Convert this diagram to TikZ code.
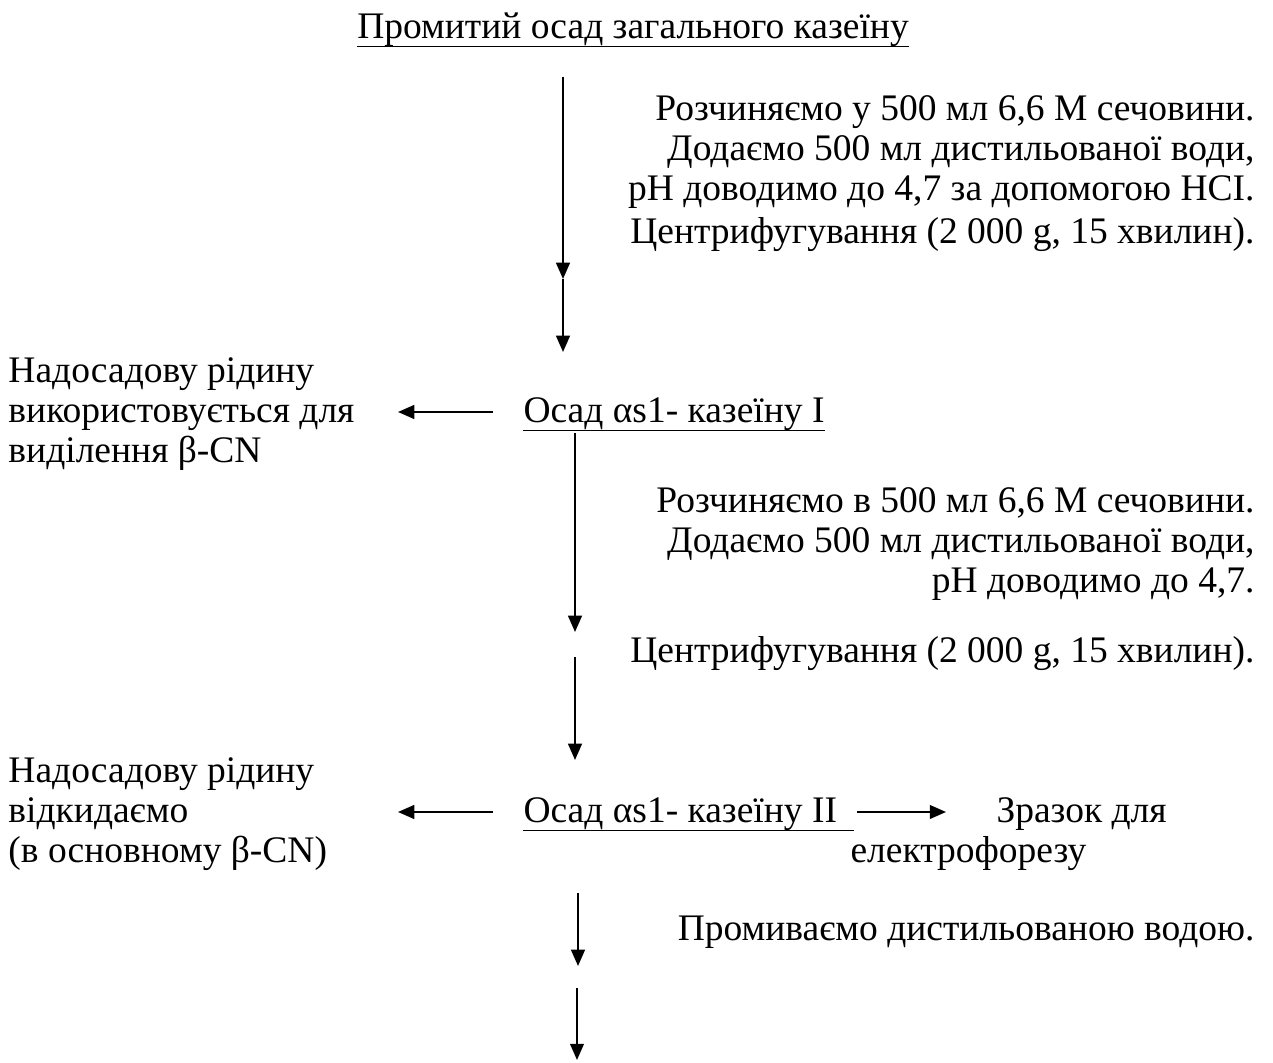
\documentclass[tikz,border=0pt]{standalone}
\usepackage{fontspec}
\setmainfont{Liberation Serif}
\usetikzlibrary{arrows.meta}
\begin{document}
\begin{tikzpicture}[x=0.4pt,y=-0.4pt,
  txt/.style={inner sep=0pt,font=\fontsize{15pt}{16pt}\selectfont},
  arr/.style={line width=0.8pt,-{Triangle[length=6.5pt,width=5.5pt]}},
  uline/.style={line width=0.7pt}]
\useasboundingbox (0,0) rectangle (1273,1063);

% title
\node[txt,anchor=base] (title) at (633,39) {Промитий осад загального казеїну};
\draw[uline] ([yshift=-3.0pt]title.base west) -- ([yshift=-3.0pt]title.base east);

% right block A
\node[txt,anchor=base east] (ra1) at (1255,121) {Розчиняємо у 500 мл 6,6 М сечовини.};
\node[txt,anchor=base east] (ra2) at (1255,161) {Додаємо 500 мл дистильованої води,};
\node[txt,anchor=base east] (ra3) at (1255,201) {pH доводимо до 4,7 за допомогою HCI.};
\node[txt,anchor=base east] (ra4) at (1255,244) {Центрифугування (2 000 g, 15 хвилин).};

% left block A
\node[txt,anchor=base west] (la1) at (8,383) {Надосадову рідину};
\node[txt,anchor=base west] (la2) at (8,423) {використовується для};
\node[txt,anchor=base west] (la3) at (8,463) {виділення β-CN};

% precipitate I
\node[txt,anchor=base west] (o1) at (523,423) {Осад αs1- казеїну I};
\draw[uline] ([yshift=-3.0pt]o1.base west) -- ([yshift=-3.0pt]o1.base east);

% right block B
\node[txt,anchor=base east] (rb1) at (1255,513) {Розчиняємо в 500 мл 6,6 М сечовини.};
\node[txt,anchor=base east] (rb2) at (1255,553) {Додаємо 500 мл дистильованої води,};
\node[txt,anchor=base east] (rb3) at (1255,593) {pH доводимо до 4,7.};
\node[txt,anchor=base east] (rb4) at (1255,663) {Центрифугування (2 000 g, 15 хвилин).};

% left block B
\node[txt,anchor=base west] (lb1) at (8,783) {Надосадову рідину};
\node[txt,anchor=base west] (lb2) at (8,823) {відкидаємо};
\node[txt,anchor=base west] (lb3) at (8,863) {(в основному β-CN)};

% precipitate II
\node[txt,anchor=base west] (o2) at (523,823) {Осад αs1- казеїну II};
\draw[uline] ([yshift=-3.0pt]o2.base west) -- ([yshift=-3.0pt,xshift=6.5pt]o2.base east);

% sample
\node[txt,anchor=base west] (zr1) at (996,823) {Зразок для};
\node[txt,anchor=base west] (zr2) at (850,863) {електрофорезу};

% wash
\node[txt,anchor=base east] (pr) at (1255,941) {Промиваємо дистильованою водою.};

% arrow coordinates
\coordinate (a1s) at (563,77);
\coordinate (a1m) at (563,279);
\coordinate (a1e) at (563,352);
\coordinate (a2s) at (575,433);
\coordinate (a2e) at (575,632);
\coordinate (a3s) at (575,657);
\coordinate (a3e) at (575,760);
\coordinate (a4s) at (578,893);
\coordinate (a4e) at (578,966);
\coordinate (a5s) at (577,988);
\coordinate (a5e) at (577,1060);
\coordinate (l1s) at (493,412);
\coordinate (l1e) at (398,412);
\coordinate (l2s) at (493,812);
\coordinate (l2e) at (398,812);
\coordinate (r2s) at (857,812);
\coordinate (r2e) at (946,812);

\draw[arr] (a1s) -- (a1m);
\draw[arr] (a1m) -- (a1e);
\draw[arr] (a2s) -- (a2e);
\draw[arr] (a3s) -- (a3e);
\draw[arr] (a4s) -- (a4e);
\draw[arr] (a5s) -- (a5e);
\draw[arr] (l1s) -- (l1e);
\draw[arr] (l2s) -- (l2e);
\draw[arr] (r2s) -- (r2e);
\end{tikzpicture}
\end{document}
